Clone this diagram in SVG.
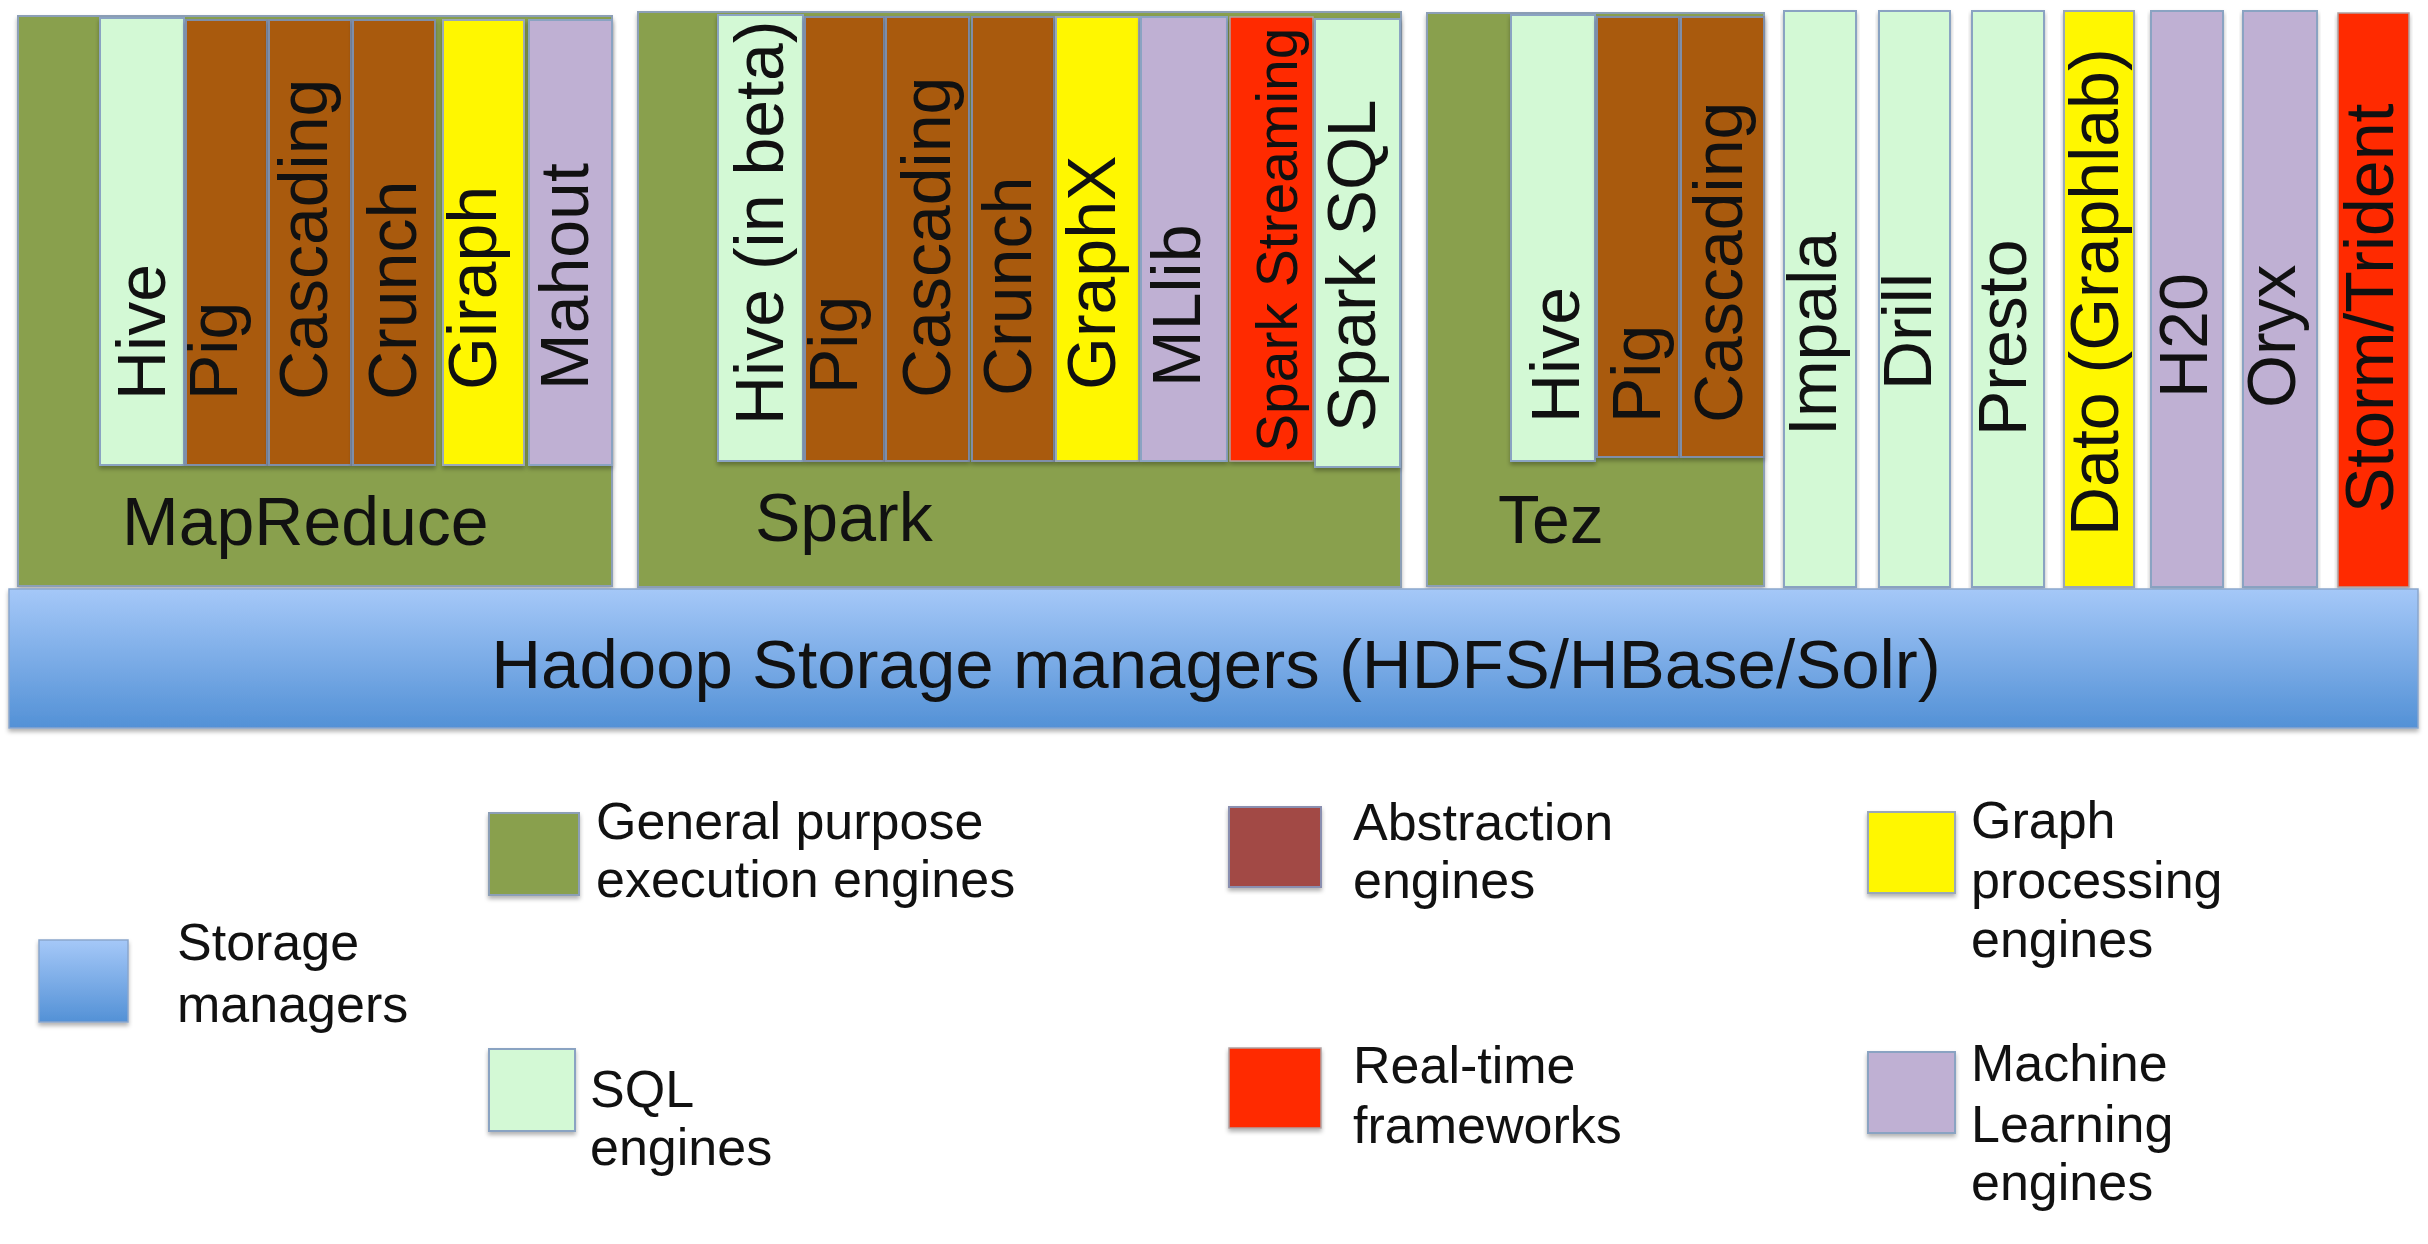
<svg xmlns="http://www.w3.org/2000/svg" width="2428" height="1244" viewBox="0 0 2428 1244">
<defs>
<linearGradient id="blueGrad" x1="0" y1="0" x2="0" y2="1">
<stop offset="0" stop-color="#a5c8f8"/>
<stop offset="1" stop-color="#5391d6"/>
</linearGradient>
<filter id="sh" x="-5%" y="-5%" width="110%" height="115%">
<feDropShadow dx="0" dy="3" stdDeviation="2" flood-color="#000" flood-opacity="0.3"/>
</filter>
</defs>
<style>
text{font-family:"Liberation Sans",Arial,Helvetica,sans-serif;fill:#111;}
.t{font-size:68px;}
.s{font-size:57px;}
.lg{font-size:52px;}
.eng{fill:#89a04e;stroke:#8c9fb6;stroke-width:2;filter:url(#sh);}
.sql{fill:#d3f9d5;stroke:#8aa3c2;stroke-width:2;}
.abs{fill:#a95a09;stroke:#7f8ea8;stroke-width:2;}
.gr{fill:#fff700;stroke:#9aa8b8;stroke-width:2;}
.ml{fill:#bfb0d3;stroke:#8aa3c2;stroke-width:2;}
.rt{fill:#ff2b00;stroke:#b0a0a0;stroke-width:1.5;}
.col{filter:url(#sh);}
.stor{fill:url(#blueGrad);stroke:#8aa6cc;stroke-width:1.5;filter:url(#sh);}
.absl{fill:#a24a45;stroke:#8a8fb0;stroke-width:2;filter:url(#sh);}
</style>
<rect width="2428" height="1244" fill="#ffffff"/>

<g id="mapreduce">
<rect class="eng" x="18" y="16" width="594" height="570"/>
<text class="t" x="122" y="545">MapReduce</text>
<g class="col"><rect class="sql" x="100" y="18" width="84" height="447"/></g>
<text class="t" transform="translate(165,400) rotate(-90)">Hive</text>
<g class="col"><rect class="abs" x="186" y="20" width="81" height="445"/></g>
<text class="t" transform="translate(237,400) rotate(-90)">Pig</text>
<g class="col"><rect class="abs" x="269" y="20" width="82" height="445"/></g>
<text class="t" transform="translate(327,400) rotate(-90)">Cascading</text>
<g class="col"><rect class="abs" x="353" y="20" width="82" height="445"/></g>
<text class="t" transform="translate(416,400) rotate(-90)">Crunch</text>
<g class="col"><rect class="gr" x="443" y="20" width="81" height="445"/></g>
<text class="t" transform="translate(496,390) rotate(-90)">Giraph</text>
<g class="col"><rect class="ml" x="529" y="20" width="83" height="445"/></g>
<text class="t" transform="translate(588,390) rotate(-90)">Mahout</text>
</g>

<g id="spark">
<rect class="eng" x="638" y="12" width="763" height="575"/>
<text class="t" x="755" y="541">Spark</text>
<g class="col"><rect class="sql" x="718" y="15" width="85" height="446"/></g>
<text class="t" transform="translate(783,425) rotate(-90)">Hive (in beta)</text>
<g class="col"><rect class="abs" x="805" y="17" width="79" height="444"/></g>
<text class="t" transform="translate(857,394) rotate(-90)">Pig</text>
<g class="col"><rect class="abs" x="886" y="17" width="83" height="444"/></g>
<text class="t" transform="translate(950,398) rotate(-90)">Cascading</text>
<g class="col"><rect class="abs" x="972" y="17" width="82" height="444"/></g>
<text class="t" transform="translate(1031,396) rotate(-90)">Crunch</text>
<g class="col"><rect class="gr" x="1056" y="17" width="83" height="444"/></g>
<text class="t" transform="translate(1115,390) rotate(-90)">GraphX</text>
<g class="col"><rect class="ml" x="1141" y="17" width="86" height="444"/></g>
<text class="t" transform="translate(1200,387) rotate(-90)">MLlib</text>
<g class="col"><rect class="rt" x="1230" y="17" width="83" height="444"/></g>
<text class="s" transform="translate(1297,452) rotate(-90)">Spark Streaming</text>
<g class="col"><rect class="sql" x="1315" y="19" width="85" height="448"/></g>
<text class="t" transform="translate(1375,432) rotate(-90)">Spark SQL</text>
</g>

<g id="tez">
<rect class="eng" x="1427" y="13" width="337" height="573"/>
<text class="t" x="1498" y="543">Tez</text>
<g class="col"><rect class="sql" x="1511" y="15" width="84" height="446"/></g>
<text class="t" transform="translate(1579,423) rotate(-90)">Hive</text>
<g class="col"><rect class="abs" x="1597" y="17" width="82" height="440"/></g>
<text class="t" transform="translate(1660,423) rotate(-90)">Pig</text>
<g class="col"><rect class="abs" x="1681" y="17" width="83" height="440"/></g>
<text class="t" transform="translate(1742,423) rotate(-90)">Cascading</text>
</g>

<g id="impala">
<g class="col"><rect class="sql" x="1784" y="11" width="72" height="576"/></g>
<text class="t" transform="translate(1836,436) rotate(-90)">Impala</text>
</g>
<g id="drill">
<g class="col"><rect class="sql" x="1879" y="11" width="71" height="576"/></g>
<text class="t" transform="translate(1931,390) rotate(-90)">Drill</text>
</g>
<g id="presto">
<g class="col"><rect class="sql" x="1972" y="11" width="72" height="576"/></g>
<text class="t" transform="translate(2026,436) rotate(-90)">Presto</text>
</g>
<g id="dato">
<g class="col"><rect class="gr" x="2064" y="11" width="70" height="576"/></g>
<text class="t" transform="translate(2118,536) rotate(-90)">Dato (Graphlab)</text>
</g>
<g id="h20">
<g class="col"><rect class="ml" x="2151" y="11" width="72" height="576"/></g>
<text class="t" transform="translate(2207,398) rotate(-90)">H20</text>
</g>
<g id="oryx">
<g class="col"><rect class="ml" x="2243" y="11" width="74" height="576"/></g>
<text class="t" transform="translate(2295,408) rotate(-90)">Oryx</text>
</g>
<g id="storm">
<g class="col"><rect class="rt" x="2338" y="13" width="71" height="574"/></g>
<text class="t" transform="translate(2393,513) rotate(-90)">Storm/Trident</text>
</g>

<g id="storage">
<rect class="stor" x="9" y="589" width="2409" height="139"/>
<text x="1216" y="688" font-size="69" text-anchor="middle">Hadoop Storage managers (HDFS/HBase/Solr)</text>
</g>

<g id="connectors"></g>

<g id="legend">
<g id="legend-storage">
<rect class="stor" x="39" y="940" width="89" height="82"/>
<text class="lg" x="177" y="960">Storage</text>
<text class="lg" x="177" y="1022">managers</text>
</g>
<g id="legend-general">
<rect class="eng" x="489" y="813" width="90" height="82"/>
<text class="lg" x="596" y="839">General purpose</text>
<text class="lg" x="596" y="897">execution engines</text>
</g>
<g id="legend-sql">
<g class="col"><rect class="sql" x="489" y="1049" width="86" height="82"/></g>
<text class="lg" x="590" y="1107">SQL</text>
<text class="lg" x="590" y="1165">engines</text>
</g>
<g id="legend-abstraction">
<rect class="absl" x="1229" y="807" width="92" height="80"/>
<text class="lg" x="1353" y="840">Abstraction</text>
<text class="lg" x="1353" y="898">engines</text>
</g>
<g id="legend-realtime">
<g class="col"><rect class="rt" x="1229" y="1048" width="92" height="80"/></g>
<text class="lg" x="1353" y="1083">Real-time</text>
<text class="lg" x="1353" y="1143">frameworks</text>
</g>
<g id="legend-graph">
<g class="col"><rect class="gr" x="1868" y="812" width="87" height="81"/></g>
<text class="lg" x="1971" y="838">Graph</text>
<text class="lg" x="1971" y="898">processing</text>
<text class="lg" x="1971" y="957">engines</text>
</g>
<g id="legend-ml">
<g class="col"><rect class="ml" x="1868" y="1052" width="87" height="81"/></g>
<text class="lg" x="1971" y="1081">Machine</text>
<text class="lg" x="1971" y="1142">Learning</text>
<text class="lg" x="1971" y="1200">engines</text>
</g>
</g>
</svg>
